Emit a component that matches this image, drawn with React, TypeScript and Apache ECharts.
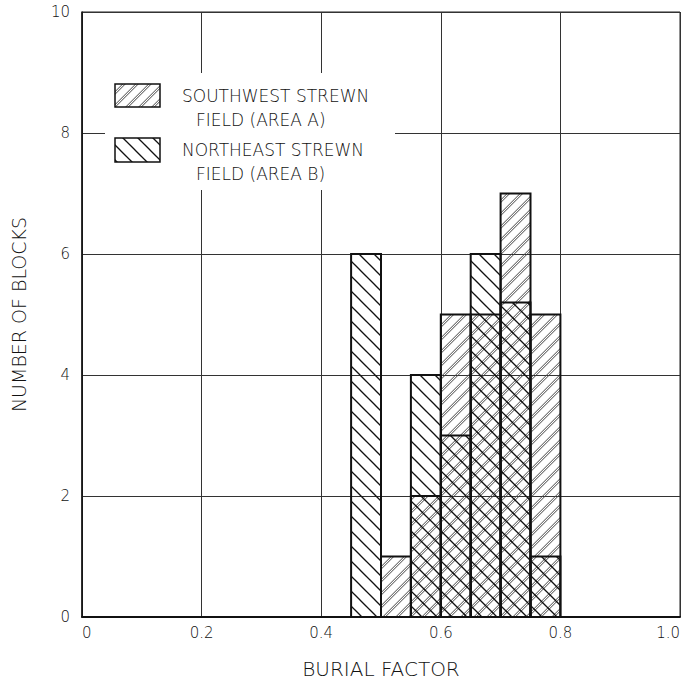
import React, { useEffect, useRef } from "react";
import * as echarts from "echarts";

// Histogram bins (burial factor), bin width 0.05
const binStarts = [0.45, 0.5, 0.55, 0.6, 0.65, 0.7, 0.75];
const binWidth = 0.05;
// Southwest strewn field (Area A) – "/" hatch
const areaA = [0, 1, 2, 5, 5, 7, 5];
// Northeast strewn field (Area B) – "\" hatch
const areaB = [6, 0, 4, 3, 6, 5.2, 1];

const xTicks = ["0", "0.2", "0.4", "0.6", "0.8", "1.0"];
const yTicks = ["0", "2", "4", "6", "8", "10"];

const legendA = ["SOUTHWEST STREWN", "FIELD (AREA A)"];
const legendB = ["NORTHEAST STREWN", "FIELD (AREA B)"];

const FONT = "'DejaVu Sans', 'Liberation Sans', sans-serif";
const INK = "#111";
const WEIGHT = 200;

function makeHatch(size: number, forward: boolean, double: boolean, color: string, lw: number) {
  const c = document.createElement("canvas");
  c.width = size;
  c.height = size;
  const ctx = c.getContext("2d")!;
  ctx.strokeStyle = color;
  ctx.lineWidth = lw;
  const offsets = double ? [-1.3, 1.3] : [0];
  for (const off of offsets) {
    for (let k = -1; k <= 1; k++) {
      ctx.beginPath();
      if (forward) {
        ctx.moveTo(k * size - 2, size + 2 + off);
        ctx.lineTo(k * size + size + 2, -2 + off);
      } else {
        ctx.moveTo(k * size - 2, -2 + off);
        ctx.lineTo(k * size + size + 2, size + 2 + off);
      }
      ctx.stroke();
    }
  }
  return { image: c, repeat: "repeat", imageWidth: size, imageHeight: size } as any;
}

export default function App() {
  const ref = useRef<HTMLDivElement>(null);
  useEffect(() => {
    if (!ref.current) return;
    document.body.style.margin = "0";
    const chart = echarts.init(ref.current, null, { renderer: "svg" });
    const patA = makeHatch(13, true, true, "#444", 1);
    const patB = makeHatch(15, false, false, "#111", 1.3);

    const dataA = binStarts.map((s, i) => [s, s + binWidth, areaA[i]]);
    const dataB = binStarts.map((s, i) => [s, s + binWidth, areaB[i]]);

    const makeRender = (pat: any) => (params: any, api: any) => {
      const x0 = api.value(0);
      const x1 = api.value(1);
      const y = api.value(2);
      if (!y) return null;
      const p0 = api.coord([x0, y]);
      const p1 = api.coord([x1, 0]);
      return {
        type: "rect",
        shape: { x: p0[0], y: p0[1], width: p1[0] - p0[0], height: p1[1] - p0[1] },
        style: { fill: pat, stroke: "#111", lineWidth: 2 },
      };
    };

    const legendText = (x: number, y: number, t: string) => ({
      type: "text",
      x,
      y,
      z: 102,
      style: {
        text: t,
        fontFamily: FONT,
        fontSize: 17,
        fontWeight: WEIGHT,
        fill: INK,
        textVerticalAlign: "middle",
      },
    });

    chart.setOption({
      animation: false,
      backgroundColor: "#fff",
      grid: {
        left: 82,
        right: 1,
        top: 12,
        bottom: 65,
        show: true,
        borderColor: "#222",
        borderWidth: 1,
        outerBoundsMode: "none",
        containLabel: false,
      },
      xAxis: {
        type: "value",
        min: 0,
        max: 1,
        interval: 0.2,
        name: "BURIAL FACTOR",
        nameLocation: "middle",
        nameGap: 42,
        nameTextStyle: { fontFamily: FONT, fontSize: 20, fontWeight: WEIGHT, color: INK },
        axisLine: { show: true, lineStyle: { color: "#111", width: 2 } },
        axisTick: { show: false },
        splitLine: { show: true, lineStyle: { color: "#333", width: 1 } },
        axisLabel: {
          fontFamily: FONT,
          fontSize: 15,
          fontWeight: WEIGHT,
          color: INK,
          margin: 8,
          alignMinLabel: "left",
          alignMaxLabel: "right",
          formatter: (v: number) => xTicks[Math.round(v / 0.2)],
        },
      },
      yAxis: {
        type: "value",
        min: 0,
        max: 10,
        interval: 2,
        name: "NUMBER OF BLOCKS",
        nameLocation: "middle",
        nameGap: 54,
        nameRotate: 90,
        nameTextStyle: { fontFamily: FONT, fontSize: 19, fontWeight: WEIGHT, color: INK },
        axisLine: { show: true, lineStyle: { color: "#111", width: 1.5 } },
        axisTick: { show: false },
        splitLine: { show: true, lineStyle: { color: "#333", width: 1 } },
        axisLabel: {
          fontFamily: FONT,
          fontSize: 15,
          fontWeight: WEIGHT,
          color: INK,
          margin: 12,
          formatter: (v: number) => yTicks[Math.round(v / 2)],
        },
      },
      series: [
        {
          type: "custom",
          name: "Area A",
          data: dataA,
          encode: { x: [0, 1], y: 2 },
          renderItem: makeRender(patA),
          z: 3,
        },
        {
          type: "custom",
          name: "Area B",
          data: dataB,
          encode: { x: [0, 1], y: 2 },
          renderItem: makeRender(patB),
          z: 4,
        },
      ],
      graphic: [
        { type: "rect", z: 100, shape: { x: 105, y: 73, width: 290, height: 117 }, style: { fill: "#fff" } },
        { type: "rect", z: 101, shape: { x: 115, y: 84, width: 45, height: 23 }, style: { fill: patA, stroke: "#111", lineWidth: 1.5 } },
        { type: "rect", z: 101, shape: { x: 115, y: 138, width: 45, height: 24 }, style: { fill: patB, stroke: "#111", lineWidth: 1.5 } },
        legendText(182, 96, legendA[0]),
        legendText(196, 120, legendA[1]),
        legendText(182, 150, legendB[0]),
        legendText(196, 174, legendB[1]),
      ],
    });
    return () => chart.dispose();
  }, []);
  return <div ref={ref} style={{ width: 681, height: 682 }} />;
}
